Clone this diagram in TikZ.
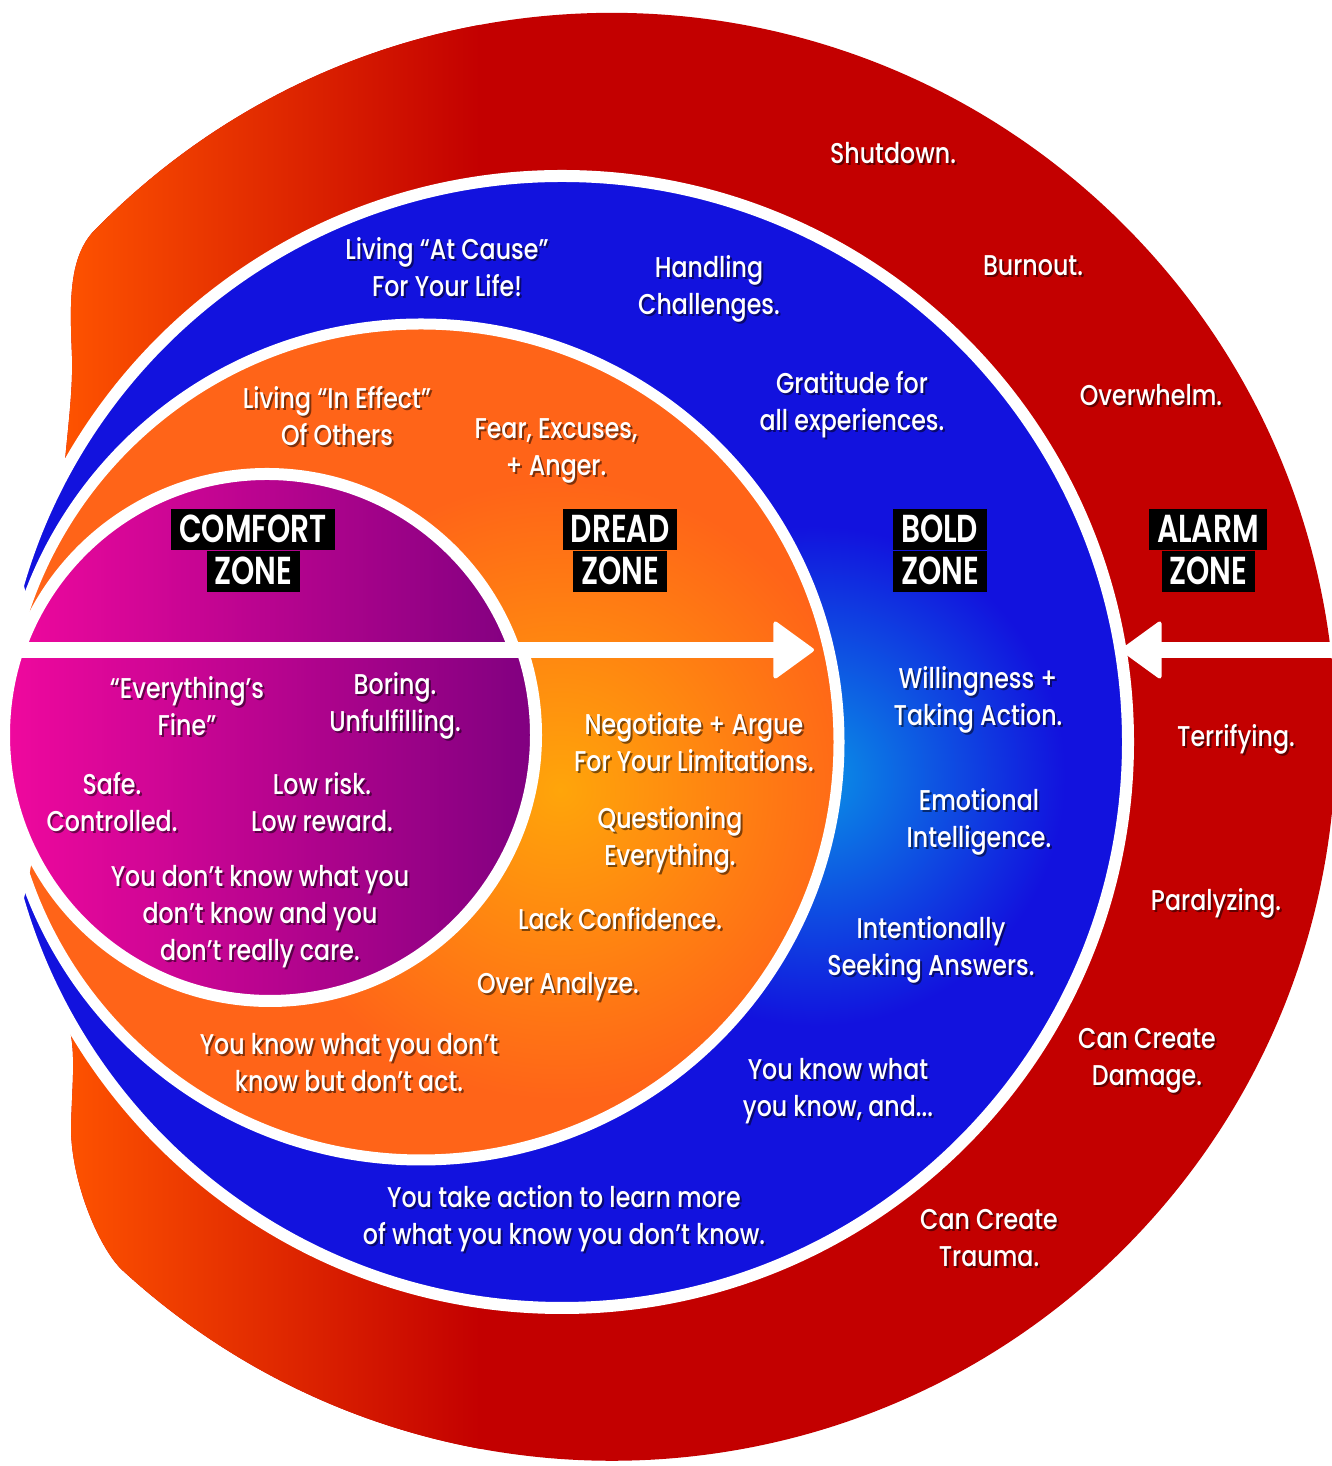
\documentclass[tikz,border=0pt]{standalone}
\usepackage{fontspec}
\setmainfont{Poppins}[UprightFont={* Medium}, BoldFont={* SemiBold}, FakeStretch=0.83]
\newfontfamily\zonefont{Poppins}[UprightFont={* SemiBold}, FakeStretch=0.76]
\usetikzlibrary{arrows.meta}
\definecolor{deepred}{RGB}{195,0,0}
\definecolor{redorange}{RGB}{255,84,0}
\definecolor{boldblue}{RGB}{18,18,222}
\definecolor{cyanblue}{RGB}{10,145,230}
\definecolor{orangeout}{RGB}{255,100,24}
\definecolor{orangein}{RGB}{255,165,10}
\definecolor{pinkleft}{RGB}{240,8,158}
\definecolor{purpright}{RGB}{128,0,128}
\newcommand\lbl[3]{%
  \node[shd, xshift=1pt, yshift=-1pt] (#1s) at (#2) {#3};
  \node[txt] (#1) at (#2) {#3};}
\begin{document}
\begin{tikzpicture}[x=0.5pt,y=0.5pt,
  txt/.style={text=white, align=center, inner sep=0pt, font=\fontsize{14.3}{18.5}\selectfont},
  shd/.style={text=black, text opacity=0.5, align=center, inner sep=0pt, font=\fontsize{14.3}{18.5}\selectfont},
  zonebox/.style={fill=black, text=white, inner xsep=4pt, inner ysep=2.75pt, text height=14pt, text depth=1pt, font=\zonefont\fontsize{19.5}{19.5}\selectfont},
  ringborder/.style={draw=white, line width=6pt},
  bigarrow/.style={draw=white, line width=8pt, -{Triangle[length=21pt, width=30pt, round, line width=2pt]}}]
\useasboundingbox (0,0) rectangle (1332,1466);
% ---- alarm zone (outer red shape)
\def\redpath{(64,994) .. controls (68,1040) and (73,1075) .. (72,1110)
  .. controls (70,1160) and (68,1205) .. (92,1233)
  arc[start angle=135.9, end angle=-132.5, radius=724]
  .. controls (101,215) and (72,280) .. (71,336)
  .. controls (72,390) and (78,420) .. (64,456) -- (300,724) -- cycle}
\fill[deepred] \redpath;
\begin{scope}
  \clip \redpath;
  \shade[left color=redorange, right color=deepred] (60,0) rectangle (480,1466);
\end{scope}
% ---- bold zone
\fill[boldblue] (562,724) circle[radius=566];
\begin{scope}
  \clip (562,724) circle[radius=566];
  \shade[inner color=cyanblue, outer color=boldblue] (815,690) circle[radius=250];
\end{scope}
\draw[ringborder] (562,724) circle[radius=566];
% ---- dread zone
\fill[orangeout] (421,724) circle[radius=418];
\begin{scope}
  \clip (421,724) circle[radius=418];
  \shade[inner color=orangein, outer color=orangeout] (560,676) circle[radius=310];
\end{scope}
\draw[ringborder, line width=5.5pt] (421,724) circle[radius=418];
% rings taper out at the far left
\fill[white] (0,724) ellipse[x radius=40, y radius=195];
% ---- comfort zone (upper and lower halves)
\begin{scope}
  \clip (0,816) rectangle (700,1100);
  \shade[left color=pinkleft, right color=purpright] (267,730) circle[radius=262];
  \draw[ringborder] (267,730) circle[radius=262];
\end{scope}
\begin{scope}
  \clip (0,816) rectangle (700,400);
  \shade[left color=pinkleft, right color=purpright] (270,731) circle[radius=266];
  \draw[ringborder] (270,731) circle[radius=266];
\end{scope}
% ---- arrows
\coordinate (sA) at (0,816);
\coordinate (eA) at (814,816);
\coordinate (sB) at (1332,816);
\coordinate (eB) at (1121,816);
\draw[bigarrow] (sA) -- (eA);
\draw[bigarrow] (sB) -- (eB);
% ---- zone labels
\node[zonebox] (comfort1) at (253,936) {COMFORT};
\node[zonebox] (comfort2) at (253.5,894) {ZONE};
\node[zonebox] (dread1) at (620,936) {DREAD};
\node[zonebox] (dread2) at (620,894) {ZONE};
\node[zonebox] (bold1) at (940,936) {\rlap{BOLD}\phantom{ZONE}};
\node[zonebox] (bold2) at (940,894) {ZONE};
\node[zonebox] (alarm1) at (1208,936) {ALARM};
\node[zonebox] (alarm2) at (1208.5,894) {ZONE};
% ---- alarm texts
\lbl{shutdown}{893,1313}{Shutdown.}
\lbl{burnout}{1033,1200}{Burnout.}
\lbl{overwhelm}{1151,1071}{Overwhelm.}
\lbl{terrifying}{1236,727}{Terrifying.}
\lbl{paralyzing}{1216,563}{Paralyzing.}
\lbl{damage}{1147,405}{Can Create\\Damage.}
\lbl{trauma}{989,228}{Can Create\\Trauma.}
% ---- bold texts
\lbl{atcause}{447,1199}{Living “At Cause”\\For Your Life!}
\lbl{handling}{709,1177}{Handling\\Challenges.}
\lbl{gratitude}{852,1061}{Gratitude for\\all experiences.}
\lbl{willing}{978,766}{Willingness +\\Taking Action.}
\lbl{emotional}{979,644}{Emotional\\Intelligence.}
\lbl{intent}{931,516}{Intentionally\\Seeking Answers.}
\lbl{youknow}{838,375}{You know what\\you know, and...}
\lbl{takeaction}{564,247}{You take action to learn more\\of what you know you don’t know.}
% ---- dread texts
\lbl{ineffect}{337,1050}{Living “In Effect”\\Of Others}
\lbl{fear}{556,1015}{Fear, Excuses,\\+ Anger.}
\lbl{negotiate}{694,724}{Negotiate + Argue\\For Your Limitations.}
\lbl{questioning}{670,626}{Questioning\\Everything.}
\lbl{lack}{620,547}{Lack Confidence.}
\lbl{over}{558,479}{Over Analyze.}
\lbl{dontact}{349,403}{You know what you don’t\\know but don’t act.}
% ---- comfort texts
\lbl{fine}{187,760}{“Everything’s\\Fine”}
\lbl{boring}{395,760}{Boring.\\Unfulfilling.}
\lbl{safe}{112,664}{Safe.\\Controlled.}
\lbl{lowrisk}{322,664}{Low risk.\\Low reward.}
\lbl{dontcare}{260,549}{You don’t know what you\\don’t know and you\\don’t really care.}
\end{tikzpicture}
\end{document}
